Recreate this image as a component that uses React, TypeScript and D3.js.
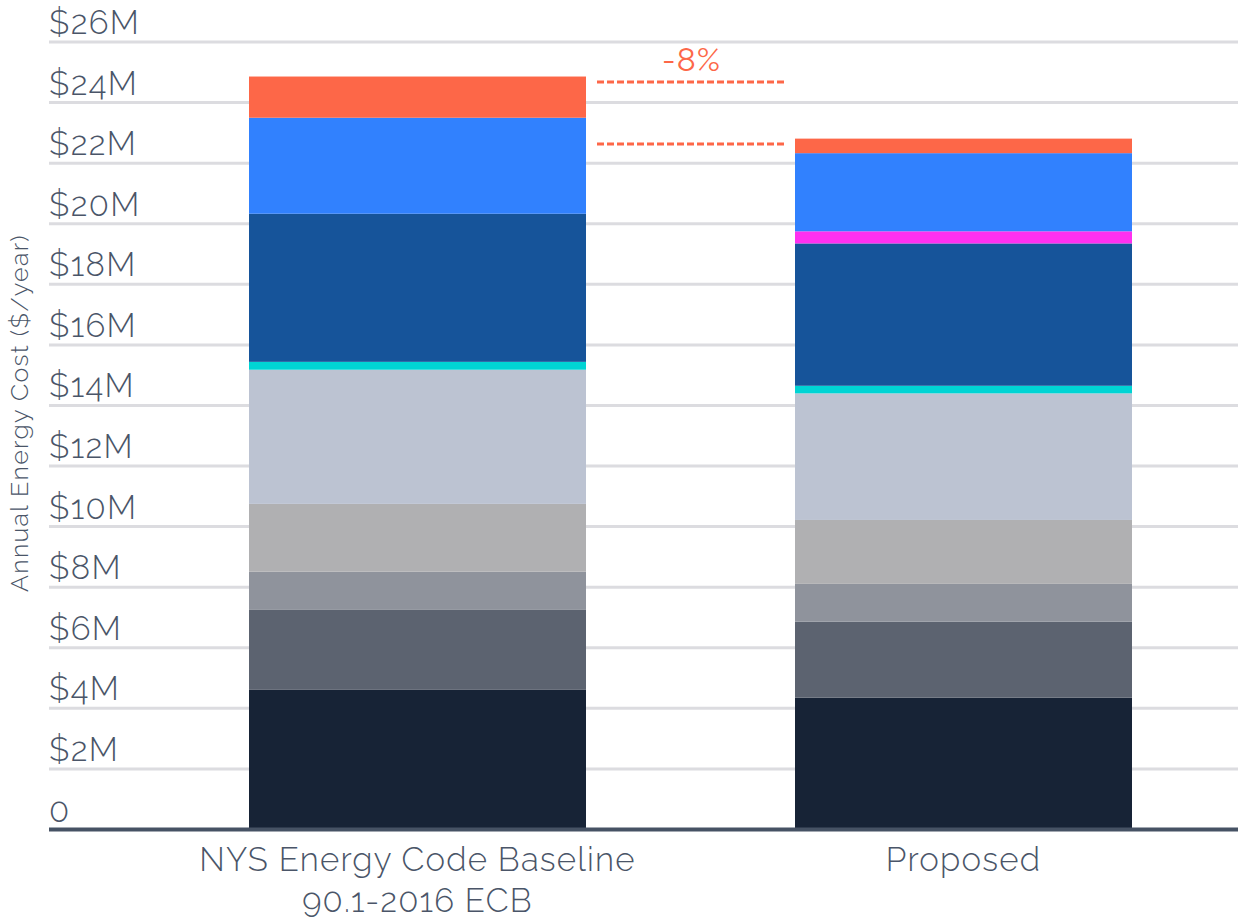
import React from "react";
import * as d3 from "d3";

const categories = ["NYS Energy Code Baseline\n90.1-2016 ECB", "Proposed"];
const seriesNames = ["s1", "s2", "s3", "s4", "s5", "s6", "s7", "s8", "s9", "s10"];
const seriesColors = ["#172336", "#5c6370", "#8f939c", "#b0b0b2", "#bcc3d2", "#00d4d4", "#16549a", "#ff30f0", "#3181fe", "#fd6748"];
// values in $M, bottom to top
const baselineValues = [4.61, 2.64, 1.26, 2.24, 4.43, 0.26, 4.89, 0.0, 3.17, 1.36];
const proposedValues = [4.35, 2.51, 1.25, 2.11, 4.18, 0.25, 4.70, 0.40, 2.58, 0.48];
const yTicks = [0, 2, 4, 6, 8, 10, 12, 14, 16, 18, 20, 22, 24, 26];

const W = 1238;
const H = 920;
const TEXT = "#4a5568";
const FONT = "Raleway, Lato, 'Open Sans', sans-serif";

export default function App() {
  const y = d3.scaleLinear().domain([0, 26]).range([829.5, 42]);
  const xs = d3.scaleBand().domain(categories).range([144.5, 1236.5]).padding(0);

  const rows = [baselineValues, proposedValues].map((vals, i) => {
    const r: any = { cat: categories[i] };
    seriesNames.forEach((s, j) => (r[s] = vals[j]));
    return r;
  });
  const stacked = d3.stack().keys(seriesNames)(rows);

  const barW = 337;
  const cx = (c: string) => (xs(c) as number) + xs.bandwidth() / 2;
  const barX = (c: string) => cx(c) - barW / 2;

  const totals = [baselineValues, proposedValues].map((v) => d3.sum(v));
  const pct = Math.round(((totals[1] - totals[0]) / totals[0]) * 100);
  const dashX1 = barX(categories[0]) + barW + 11;
  const dashX2 = barX(categories[1]) - 9;

  return (
    <svg width={W} height={H} style={{ position: "absolute", left: 0, top: 0 }} fontFamily={FONT}>
      {yTicks.map((t) => (
        <g key={t}>
          {t > 0 && <line x1={49} x2={W} y1={y(t)} y2={y(t)} stroke="#dcdce0" strokeWidth={3} />}
          <text x={49} y={y(t) - 8} fontSize={33} fill={TEXT} fontWeight={300} letterSpacing={1.3}>
            {t === 0 ? "0" : `$${t}M`}
          </text>
        </g>
      ))}
      {stacked.map((layer, j) => (
        <g key={seriesNames[j]} fill={seriesColors[j]}>
          {layer.map((d: any, i) =>
            d[1] - d[0] > 0 ? (
              <rect key={i} x={barX(categories[i])} width={barW} y={y(d[1])} height={y(d[0]) - y(d[1])} />
            ) : null
          )}
        </g>
      ))}
      <line x1={49} x2={W} y1={y(0)} y2={y(0)} stroke="#465264" strokeWidth={4} />
      {totals.map((t, i) => (
        <line key={i} x1={dashX1} x2={dashX2} y1={y(t) + 5.5} y2={y(t) + 5.5} stroke="#fd6748" strokeWidth={3} strokeDasharray="7,3" />
      ))}
      <text x={(dashX1 + dashX2) / 2} y={71} textAnchor="middle" fontSize={32} fill="#fd6748" fontWeight={400} letterSpacing={1.3}>
        {`${pct}%`}
      </text>
      {categories.map((c) =>
        c.split("\n").map((line, k) => (
          <text key={c + k} x={cx(c)} y={871 + k * 41} textAnchor="middle" fontSize={33} fill={TEXT} fontWeight={300} letterSpacing={1.2}>
            {line}
          </text>
        ))
      )}
      <text
        transform={`translate(28, ${413}) rotate(-90)`}
        textAnchor="middle"
        fontSize={25}
        fill={TEXT}
        fontWeight={300}
        letterSpacing={1.3}
      >
        Annual Energy Cost ($/year)
      </text>
    </svg>
  );
}
